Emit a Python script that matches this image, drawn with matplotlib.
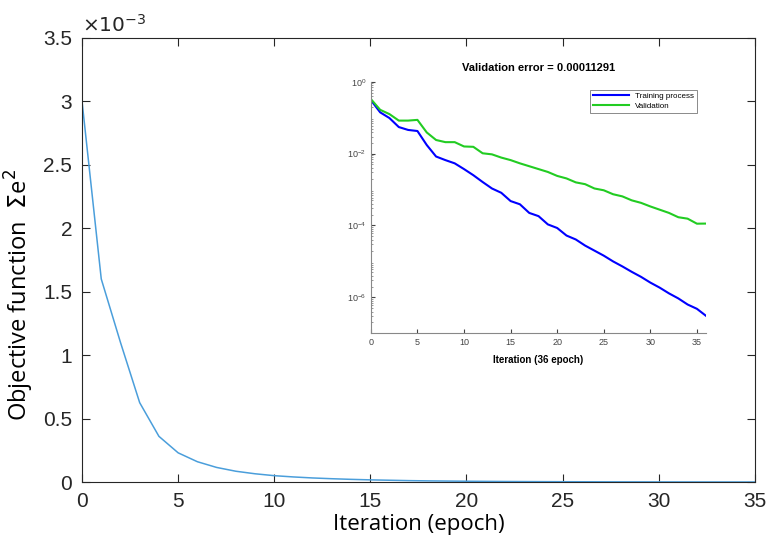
import numpy as np
import matplotlib
matplotlib.use("Agg")
import matplotlib.pyplot as plt
from matplotlib.ticker import LogLocator, NullFormatter

# Main curve (objective function, units of 1e-3)
main_x = list(range(0, 36))
main_y = [3.00, 1.60, 1.10, 0.625, 0.36, 0.23, 0.16, 0.115, 0.085, 0.065,
          0.050, 0.040, 0.032, 0.026, 0.021, 0.017, 0.014, 0.011, 0.009, 0.0075,
          0.0062, 0.0051, 0.0042, 0.0035, 0.0029, 0.0024, 0.0020, 0.0016, 0.0013, 0.0011,
          0.0009, 0.0007, 0.0006, 0.0005, 0.0004, 0.0003]

# Inset curves (log10 of error)
inset_x = list(range(0, 37))
train_log = [-0.51, -0.85, -1.01, -1.26, -1.34, -1.37, -1.76, -2.08, -2.18, -2.27,
             -2.43, -2.60, -2.79, -2.97, -3.09, -3.32, -3.41, -3.65, -3.74, -3.97,
             -4.07, -4.28, -4.39, -4.56, -4.70, -4.84, -5.00, -5.14, -5.29, -5.43,
             -5.59, -5.73, -5.89, -6.03, -6.20, -6.32, -6.52]
val_log = [-0.48, -0.78, -0.90, -1.08, -1.08, -1.06, -1.41, -1.62, -1.68, -1.68,
           -1.80, -1.81, -1.99, -2.02, -2.11, -2.18, -2.27, -2.35, -2.43, -2.51,
           -2.62, -2.69, -2.80, -2.85, -2.97, -3.02, -3.13, -3.19, -3.30, -3.37,
           -3.47, -3.56, -3.65, -3.77, -3.81, -3.95, -3.947]

plt.rcParams['font.family'] = ['Liberation Sans', 'DejaVu Sans']

fig = plt.figure(figsize=(7.71, 5.49), dpi=100)
ax = fig.add_axes([0.1064, 0.122, 0.8726, 0.809])
ax.plot(main_x, np.array(main_y) * 1e-3, color='#4a9edb', lw=1.1)
ax.set_xlim(0, 35)
ax.set_ylim(0, 3.5e-3)
ax.set_xticks(range(0, 36, 5))
yt = [0, 0.5, 1, 1.5, 2, 2.5, 3, 3.5]
ax.set_yticks([v * 1e-3 for v in yt])
ax.set_yticklabels(['0', '0.5', '1', '1.5', '2', '2.5', '3', '3.5'])
ax.tick_params(direction='in', length=6, labelsize=15, colors='#262626',
               top=True, right=True, pad=7)
for s in ax.spines.values():
    s.set_color('#262626')
    s.set_linewidth(0.8)
ax.text(0.0, 1.005, r'$\times10^{-3}$', transform=ax.transAxes, fontsize=14.5,
        color='#262626', ha='left', va='bottom')
ax.set_xlabel('Iteration (epoch)', fontsize=16, family=['Open Sans', 'DejaVu Sans'],
              labelpad=2)
ax.set_ylabel(r'Objective function  $\Sigma\mathregular{e}^2$', fontsize=17,
              family=['Open Sans', 'DejaVu Sans'])
ax.yaxis.set_label_coords(-0.068, 0.42)

# Inset
ins = fig.add_axes([0.481, 0.393, 0.435, 0.458])
ins.plot(inset_x, 10 ** np.array(train_log), color='#0000ff', lw=1.5, label='Training process')
ins.plot(inset_x, 10 ** np.array(val_log), color='#22cc22', lw=1.5, label='Validation')
ins.set_yscale('log')
ins.set_xlim(0, 36)
ins.set_ylim(1e-7, 1)
ins.set_xticks(range(0, 36, 5))
ins.set_yticks([1, 1e-2, 1e-4, 1e-6])
ins.yaxis.set_minor_locator(LogLocator(base=10, subs=np.arange(2, 10) * 1.0, numticks=20))
ins.yaxis.set_minor_formatter(NullFormatter())
ins.tick_params(direction='in', labelsize=6.5, colors='#444444', length=3)
ins.tick_params(which='minor', direction='in', length=1.5, colors='#888888')
ins.spines['top'].set_visible(False)
ins.spines['right'].set_visible(False)
for s in ['left', 'bottom']:
    ins.spines[s].set_color('#888888')
ins.set_title('Validation error = 0.00011291', fontsize=8, fontweight='bold', pad=8)
ins.set_xlabel('Iteration (36 epoch)', fontsize=7, fontweight='bold', labelpad=6)
leg = ins.legend(loc='upper right', fontsize=5.8, frameon=True, fancybox=False,
                 edgecolor='#555555', handlelength=4.5, borderpad=0.35, labelspacing=0.3,
                 bbox_to_anchor=(0.985, 0.985))
leg.get_frame().set_linewidth(0.6)

fig.savefig('out.png', dpi=100)
